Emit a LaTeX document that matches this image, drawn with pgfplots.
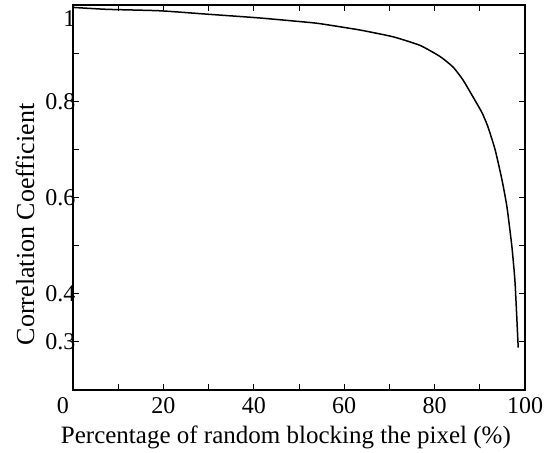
\documentclass[border=0pt]{standalone}
\usepackage{pgfplots}
\pgfplotsset{compat=1.18}
\usepackage{fontspec}
\setmainfont{Liberation Serif}
\begin{document}
\begin{tikzpicture}[x=1pt,y=1pt]
\path (-73pt,-62pt) rectangle (479pt,390pt);
\begin{axis}[
  at={(0pt,0pt)}, anchor=south west,
  scale only axis, width=452pt, height=385pt,
  xmin=0, xmax=100, ymin=0.2, ymax=1.0,
  xtick={10,20,...,100},
  xticklabels={,20,,40,,60,,80,,100},
  extra x ticks={0},
  extra x tick labels={0},
  extra x tick style={xticklabel style={xshift=-10pt}},
  ytick={0.3,0.4,0.5,0.6,0.7,0.8,0.9},
  yticklabels={0.3,0.4,,0.6,,0.8,},
  extra y ticks={1},
  extra y tick labels={1},
  extra y tick style={yticklabel style={yshift=-14pt}},
  tick align=inside, tick pos=both,
  major tick length=6pt,
  axis line style={line width=1.3pt},
  every tick/.style={line width=1pt, black},
  /pgf/number format/assume math mode=true,
  tick label style={font=\fontsize{24}{26}\selectfont},
  xticklabel style={yshift=-4pt},
  yticklabel style={xshift=6pt},
  xlabel={Percentage of random blocking the pixel (\%)},
  ylabel={Correlation Coefficient},
  every axis x label/.style={at={(axis description cs:0.471,-0.124)}, anchor=center, font=\fontsize{25}{28}\selectfont},
  every axis y label/.style={at={(axis description cs:-0.106,0.43)}, anchor=center, rotate=90, font=\fontsize{26}{28}\selectfont},
]
\addplot[black, line width=1.5pt, smooth, tension=0.3] coordinates {
(0,0.995) (7.5,0.991) (19.2,0.988) (29.6,0.981) (41.4,0.973) (53.1,0.963)
(56.2,0.959) (63.5,0.948) (70.8,0.934) (76.8,0.916) (81.2,0.893)
(84.1,0.871) (86.3,0.844) (88.5,0.809) (90.5,0.776) (91.8,0.747)
(93.4,0.699) (94.9,0.637) (96.0,0.581) (97.1,0.498) (97.8,0.423) (98.5,0.288)
};
\end{axis}
\end{tikzpicture}
\end{document}
